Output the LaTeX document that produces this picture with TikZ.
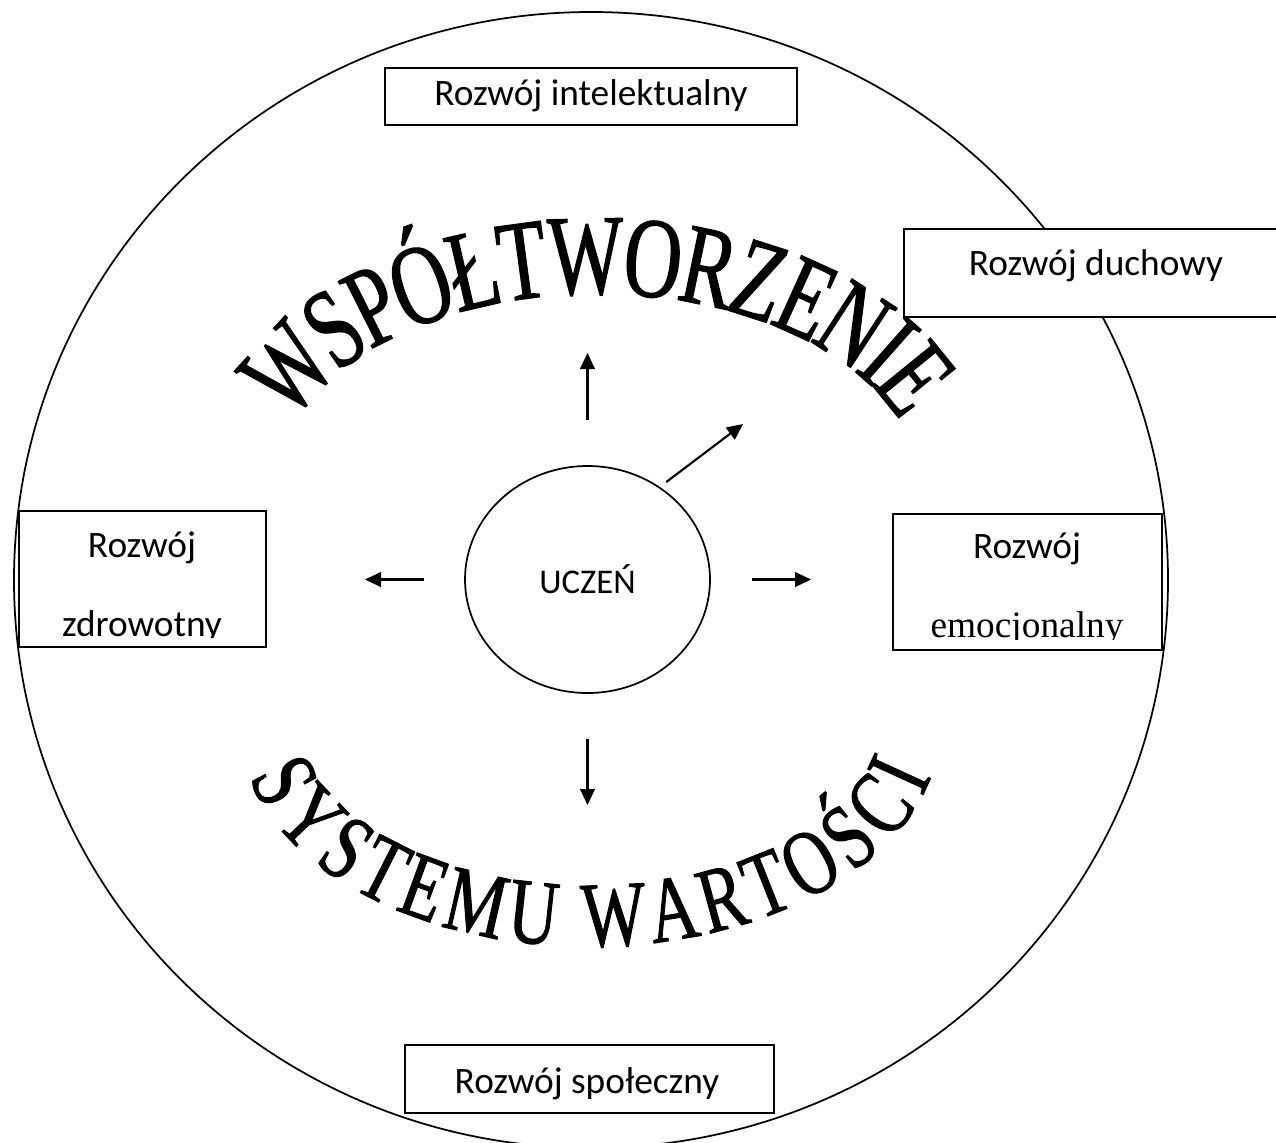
\documentclass[tikz,border=0pt]{standalone}
\usepackage{fontspec}
\setmainfont{Carlito}
\newfontfamily\timesfont{Liberation Serif}
\newfontfamily\archup[FakeStretch=0.7, FakeBold=1]{Liberation Serif}
\newfontfamily\archdown[FakeStretch=0.73, FakeBold=1]{Liberation Serif}
\usetikzlibrary{arrows.meta, shapes.geometric, decorations.text}
\tikzset{
x=0.75pt, y=0.75pt, % one unit = one pixel of the sketch
box/.style={draw, line width=1.6pt, fill=white, inner sep=0pt}, % the white frames
boxtext/.style={font=\fontsize{28}{32}\selectfont, anchor=base, inner sep=0pt},
pil/.style={-{Triangle[length=12pt,width=11pt]}, line width=1.6pt}, % arrows from the pupil
}
\begin{document}
\begin{tikzpicture}
\useasboundingbox (0,0) rectangle (1276,-1142);

% outer circle
\draw[line width=1.3pt] (591,-580) ellipse [x radius=577, y radius=568];

% words along the arcs (paths run through the middle of the letters)
\path[decorate, decoration={text along path, text align={fit to path}, raise=-28pt,
  text={|\archup\fontsize{86}{96}\selectfont|WSPÓŁTWORZENIE}}]
  (597,-480.6) ++(158.6:357 and 224) arc[start angle=158.6, end angle=21.4, x radius=357, y radius=224];
\path[decorate, decoration={text along path, text align={fit to path}, raise=-22pt,
  text={|\archdown\fontsize{70}{80}\selectfont|SYSTEMU WARTOŚCI}}]
  (590,-722) ++(192.4:322 and 195) arc[start angle=192.4, end angle=347.6, x radius=322, y radius=195];

% frames
\node[box, minimum width=309pt, minimum height=42.75pt] (intel) at (591,-96.5) {};
\node[boxtext] (intelT) at (591,-105) {Rozwój intelektualny};

\node[box, minimum width=289.5pt, minimum height=66pt] (duch) at (1097,-273) {};
\node[boxtext] (duchT) at (1096,-275) {Rozwój duchowy};

\node[box, minimum width=185.25pt, minimum height=102pt] (zdrow) at (142.5,-579) {};
\node[boxtext] (zdrowT) at (142,-557) {Rozwój};
\begin{scope}
  \clip ([yshift=8.25pt]zdrow.south west) rectangle (zdrow.north east);
  \node[boxtext] (zdrowT2) at (142,-636) {zdrowotny};
\end{scope}

\node[box, minimum width=201.75pt, minimum height=102pt] (emoc) at (1027.5,-582) {};
\node[boxtext] (emocT) at (1027,-558) {Rozwój};
\begin{scope}
  \clip ([yshift=8.6pt]emoc.south west) rectangle (emoc.north east);
  \node[boxtext, font=\fontsize{28}{32}\selectfont\timesfont] (emocT2) at (1027,-637) {emocjonalny};
\end{scope}

\node[box, minimum width=276.75pt, minimum height=51pt] (spol) at (589.5,-1079) {};
\node[boxtext] (spolT) at (587,-1093) {Rozwój społeczny};

% the pupil
\node[ellipse, draw, line width=1.3pt, minimum width=183.75pt, minimum height=170.25pt,
  font=\fontsize{26}{30}\selectfont] (uczen) at (587.5,-579.5) {UCZEŃ};

% arrows
\coordinate (upTip) at (587.5,-353);
\coordinate (leftTip) at (365,-579.5);
\coordinate (rightTip) at (811,-579.5);
\coordinate (downTip) at (587.5,-805);
\coordinate (diagTip) at (743,-424);
\draw[pil, shorten <=34pt] (uczen.north) -- (upTip);
\draw[pil, shorten <=30pt] (uczen.west) -- (leftTip);
\draw[pil, shorten <=31pt] (uczen.east) -- (rightTip);
\draw[pil, shorten <=34pt] (uczen.south) -- (downTip);
\draw[pil, shorten <=6pt] (uczen.52) -- (diagTip);
\end{tikzpicture}
\end{document}
